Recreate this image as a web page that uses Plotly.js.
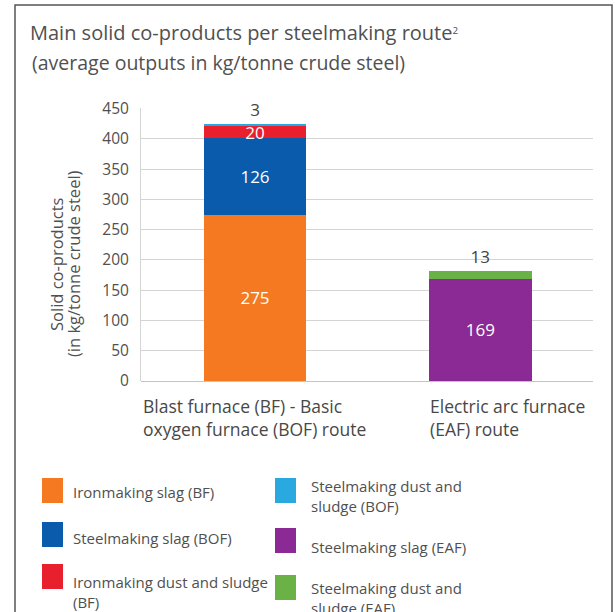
<!DOCTYPE html>
<html>
<head>
<meta charset="utf-8">
<script src="https://cdn.plot.ly/plotly-3.0.1.min.js"></script>
<style>html,body{margin:0;padding:0;background:#fff;}#chart{width:615px;height:612px;}</style>
</head>
<body>
<div id="chart"></div>
<script>
// ---- data ----
const categories = ["BF-BOF", "EAF"];
const categoryLabels = ["Blast furnace (BF) - Basic<br>oxygen furnace (BOF) route", "Electric arc furnace<br>(EAF) route"];
const seriesNames = ["Ironmaking slag (BF)", "Steelmaking slag (BOF)", "Ironmaking dust and sludge<br>(BF)",
                     "Steelmaking dust and<br>sludge (BOF)", "Steelmaking slag (EAF)", "Steelmaking dust and<br>sludge (EAF)"];
const ironmakingSlagBF   = [275, null];
const steelmakingSlagBOF = [126, null];
const ironmakingDustBF   = [20, null];
const steelmakingDustBOF = [3, null];
const steelmakingSlagEAF = [null, 169];
const steelmakingDustEAF = [null, 13];
const seriesValues = [ironmakingSlagBF, steelmakingSlagBOF, ironmakingDustBF, steelmakingDustBOF, steelmakingSlagEAF, steelmakingDustEAF];
const seriesColors = ["#f47920", "#0a5bab", "#e8202d", "#29a9e0", "#8b2a94", "#6ab245"];
const labelOutside = [false, false, false, true, false, true];
const yTicks = [0, 50, 100, 150, 200, 250, 300, 350, 400, 450];
const yTitleLines = ["Solid co-products", "(in kg/tonne crude steel)"];
const titleLines = ["Main solid co-products per steelmaking route<span style=\"font-size:14px\"><sup>2</sup></span>", "(average outputs in kg/tonne crude steel)"];

// ---- layout constants ----
const W = 615, H = 612;
const M = {l: 141, r: 22, t: 108, b: 231};
const PW = W - M.l - M.r, PH = H - M.t - M.b;
const px = v => (v - M.l) / PW;
const py = v => 1 - (v - M.t) / PH;
const FONT = "Open Sans, DejaVu Sans, sans-serif";
const TXT = "#505050";

const traces = seriesValues.map((vals, i) => ({
  type: "bar",
  x: categories,
  y: vals,
  name: seriesNames[i],
  marker: {color: seriesColors[i], line: {width: 0}},
  text: vals.map(v => v == null ? "" : String(v)),
  texttemplate: "%{text}",
  textposition: labelOutside[i] ? "outside" : "inside",
  insidetextanchor: "middle",
  textangle: 0,
  constraintext: "none",
  cliponaxis: false,
  insidetextfont: {family: FONT, size: 17, color: "#ffffff"},
  outsidetextfont: {family: FONT, size: 17, color: "#444444"},
  hoverinfo: "x+y+name",
  showlegend: false
}));

const shapes = [];
const annotations = [];

// frame
shapes.push({type: "rect", xref: "paper", yref: "paper",
  x0: px(15), x1: px(612), y0: py(5), y1: py(640),
  line: {color: "#555555", width: 1.5}, fillcolor: "rgba(0,0,0,0)", layer: "below"});

// second title line
annotations.push({xref: "paper", yref: "paper", x: px(30), y: py(63), xanchor: "left", yanchor: "middle",
  text: titleLines[1], showarrow: false,
  font: {family: FONT, size: 19.5, color: TXT}});

// y axis title (two lines, tight spacing)
const yTitleX = [56, 73];
yTitleLines.forEach((t, i) => {
  annotations.push({xref: "paper", yref: "paper", x: px(yTitleX[i]), y: py(264), xanchor: "center", yanchor: "middle",
    text: t, textangle: -90, showarrow: false,
    font: {family: FONT, size: 16.5, color: TXT}});
});

// category labels (left aligned)
const labelShift = [-114, -52];
categories.forEach((c, i) => {
  annotations.push({xref: "x", yref: "paper", x: c, y: py(392), xanchor: "left", yanchor: "top",
    xshift: labelShift[i], align: "left", text: categoryLabels[i], showarrow: false,
    font: {family: FONT, size: 17.5, color: "#484848"}});
});

// legend (two columns)
const legendSwatchX = [42, 275];
const legendTextX = [71, 309];
const legendSwatchTop = [[478, 522, 564], [478, 528, 575]];
const legendTextMid = [[492, 538, 592], [496, 547, 598]];
seriesNames.forEach((n, i) => {
  const col = Math.floor(i / 3), row = i % 3;
  const top = legendSwatchTop[col][row];
  shapes.push({type: "rect", xref: "paper", yref: "paper",
    x0: px(legendSwatchX[col]), x1: px(legendSwatchX[col] + 21), y0: py(top), y1: py(top + 25),
    line: {width: 0}, fillcolor: seriesColors[i]});
  annotations.push({xref: "paper", yref: "paper", x: px(legendTextX[col]), y: py(legendTextMid[col][row]),
    xanchor: "left", yanchor: "middle", align: "left", text: n, showarrow: false,
    font: {family: FONT, size: 15, color: TXT}});
});

const layout = {
  width: W, height: H,
  margin: M,
  paper_bgcolor: "#ffffff", plot_bgcolor: "#ffffff",
  barmode: "stack",
  bargap: 0.544,
  showlegend: false,
  title: {text: titleLines[0],
    x: 30 / W, xref: "container", xanchor: "left",
    y: 1 - 33 / H, yref: "container", yanchor: "middle",
    font: {family: FONT, size: 20, color: TXT}},
  xaxis: {type: "category", showticklabels: false, showgrid: false, zeroline: false, showline: false, ticks: "", fixedrange: true},
  yaxis: {range: [0, 451], tickvals: yTicks, ticktext: yTicks.map(String),
    showgrid: true, gridcolor: "#d4d4d4", gridwidth: 1,
    zeroline: true, zerolinecolor: "#c4c4c4", zerolinewidth: 1,
    showline: true, linecolor: "#d4d4d4", linewidth: 1,
    ticks: "outside", ticklen: 8, tickcolor: "rgba(0,0,0,0)",
    tickfont: {family: FONT, size: 15.5, color: TXT}, fixedrange: true},
  shapes: shapes,
  annotations: annotations
};

Plotly.newPlot("chart", traces, layout, {displayModeBar: false, staticPlot: true});
</script>
</body>
</html>
